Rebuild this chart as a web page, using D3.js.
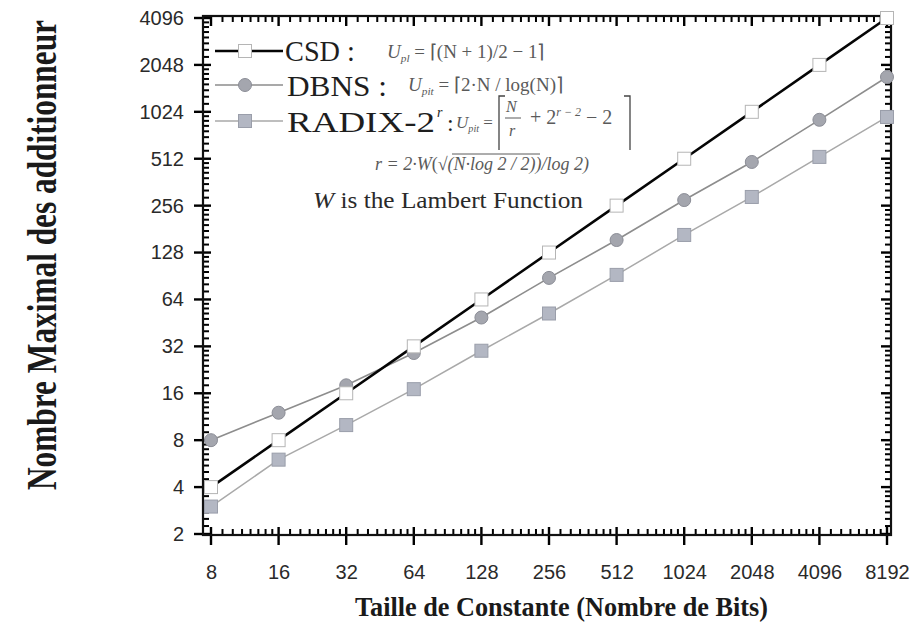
<!DOCTYPE html>
<html>
<head>
<meta charset="utf-8">
<script src="https://cdn.jsdelivr.net/npm/d3@7"></script>
<style>
  body { margin: 0; background: #fff; }
  svg { display: block; }
  .axis text { font-family: "Liberation Sans", Arial, sans-serif; font-size: 20px; fill: #2a2a2a; }
  .axis path.domain { display: none; }
</style>
</head>
<body>
<svg id="chart" width="912" height="636"></svg>
<script>
// bit sizes of the constant (x) and tick values
const bits = [8, 16, 32, 64, 128, 256, 512, 1024, 2048, 4096, 8192];
const yTickValues = [2, 4, 8, 16, 32, 64, 128, 256, 512, 1024, 2048, 4096];

// maximal number of adders
const csd = [4, 8, 16, 32, 64, 128, 256, 512, 1024, 2048, 4096];
const dbns = [8, 12, 18, 29, 49, 88, 154, 278, 488, 910, 1713];
const radix = [3, 6, 10, 17, 30, 52, 92, 166, 291, 526, 949];

const svg = d3.select("#chart");
const frameL = 203, frameR = 891, frameT = 16, frameB = 535;

const x = d3.scaleLog().base(2).domain([8, 8192]).range([211, 887]);
const y = d3.scaleLog().base(2).domain([2, 4096]).range([534, 18]);

// minor ticks : linear subdivisions of each octave
function minorTicks(lo, hi, parts) {
  const out = [];
  for (let p = lo; p < hi; p *= 2) {
    for (let i = 1; i < parts; i++) out.push(p * (1 + i / parts));
  }
  return out;
}
const xMinor = minorTicks(8, 8192, 8);
const yMinor = minorTicks(2, 4096, 8);

// tick labels through d3 axes
svg.append("g").attr("class", "axis")
  .attr("transform", `translate(0,${frameB})`)
  .call(d3.axisBottom(x).tickValues(bits).tickSize(10).tickPadding(20).tickFormat(d3.format("d")))
  .call((g) => g.selectAll(".tick line").remove());
svg.append("g").attr("class", "axis")
  .attr("transform", `translate(${frameL},0)`)
  .call(d3.axisLeft(y).tickValues(yTickValues).tickSize(9).tickPadding(10).tickFormat(d3.format("d")))
  .call((g) => g.selectAll(".tick line").remove());

// tick marks as filled rects
const tickG = svg.append("g").attr("fill", "#000");
function xTickMarks(vals, y0, y1, w) {
  tickG.append("g").selectAll("rect").data(vals).join("rect")
    .attr("x", (d) => x(d) - w / 2).attr("width", w)
    .attr("y", Math.min(y0, y1)).attr("height", Math.abs(y1 - y0));
}
function yTickMarks(vals, x0, x1, w) {
  tickG.append("g").selectAll("rect").data(vals).join("rect")
    .attr("y", (d) => y(d) - w / 2).attr("height", w)
    .attr("x", Math.min(x0, x1)).attr("width", Math.abs(x1 - x0));
}
// bottom: majors cross the axis, minors inward
xTickMarks(bits, frameB - 8, frameB + 10, 2.4);
xTickMarks(xMinor, frameB - 6, frameB, 2);
// top: inward
xTickMarks(bits, frameT, frameT + 10, 2.4);
xTickMarks(xMinor, frameT, frameT + 6, 2);
// left: majors cross, minors inward
yTickMarks(yTickValues, frameL - 9, frameL + 8, 2.4);
yTickMarks(yMinor, frameL, frameL + 6, 2);
// right: inward
yTickMarks(yTickValues, frameR - 10, frameR, 2.4);
yTickMarks(yMinor, frameR - 6, frameR, 2);

// frame
svg.append("rect")
  .attr("x", frameL).attr("y", frameT)
  .attr("width", frameR - frameL).attr("height", frameB - frameT)
  .attr("fill", "none").attr("stroke", "#111").attr("stroke-width", 2.2);

// series
const series = [
  { name: "CSD", values: csd, line: "#050505", width: 2.6, shape: "square", fill: "#ffffff", stroke: "#b5b5b5" },
  { name: "DBNS", values: dbns, line: "#8d8d8d", width: 1.6, shape: "circle", fill: "#a4a6ae", stroke: "#8b8d96" },
  { name: "RADIX", values: radix, line: "#a9a9a9", width: 1.5, shape: "square", fill: "#b3b7c3", stroke: "#9a9eaa" }
];

const line = d3.line().x((d) => x(d[0])).y((d) => y(d[1]));

function drawMarker(g, s, cx, cy) {
  if (s.shape === "circle") {
    g.append("circle").attr("cx", cx).attr("cy", cy).attr("r", 6.5)
      .attr("fill", s.fill).attr("stroke", s.stroke).attr("stroke-width", 1);
  } else {
    g.append("rect").attr("x", cx - 6.5).attr("y", cy - 6.5).attr("width", 13).attr("height", 13)
      .attr("fill", s.fill).attr("stroke", s.stroke).attr("stroke-width", 1);
  }
}

const plot = svg.append("g");
series.slice().reverse().forEach((s) => {
  const pts = bits.map((b, i) => [b, s.values[i]]);
  plot.append("path").attr("d", line(pts))
    .attr("fill", "none").attr("stroke", s.line).attr("stroke-width", s.width);
  const mg = plot.append("g");
  pts.forEach((p) => drawMarker(mg, s, x(p[0]), y(p[1])));
});

// legend
const legendRows = [
  { s: series[0], y: 51 },
  { s: series[1], y: 85 },
  { s: series[2], y: 121 }
];
const lg = svg.append("g");
legendRows.forEach((r) => {
  lg.append("line").attr("x1", 215).attr("x2", 283).attr("y1", r.y).attr("y2", r.y)
    .attr("stroke", r.s.line).attr("stroke-width", r.s.width);
  drawMarker(lg, r.s, 245, r.y);
});

const serif = "'Liberation Serif', 'Times New Roman', serif";
function label(txt, xx, yy, size, len) {
  const t = lg.append("text").attr("x", xx).attr("y", yy)
    .attr("font-family", serif).attr("font-size", size).attr("fill", "#1e1e1e").text(txt);
  if (len) t.attr("textLength", len).attr("lengthAdjust", "spacingAndGlyphs");
  return t;
}
label("CSD :", 285, 61, 29, 70);
label("DBNS :", 287, 96, 29, 100);
label("RADIX-2", 287, 132, 29, 148);
lg.append("text").attr("x", 437).attr("y", 117).attr("font-family", serif)
  .attr("font-size", 14).attr("font-style", "italic").attr("fill", "#1e1e1e").text("r");
label(":", 447, 131, 24);

// formulas (faded small italic)
const fcol = "#5a5a5a";
function formula(parts, xx, yy, size) {
  const t = lg.append("text").attr("x", xx).attr("y", yy)
    .attr("font-family", serif).attr("font-size", size).attr("fill", fcol);
  parts.forEach((p) => {
    const ts = t.append("tspan").text(p.t);
    if (p.i) ts.attr("font-style", "italic");
    if (p.sub) ts.attr("font-size", size * 0.6).attr("dy", 4);
    if (p.up) ts.attr("dy", -4);
    if (p.sup) ts.attr("font-size", size * 0.6).attr("dy", -8);
    if (p.down) ts.attr("dy", 8);
  });
  return t;
}
formula([{ t: "U", i: 1 }, { t: "pl", i: 1, sub: 1 }, { t: " = ⌈(N + 1)/2 − 1⌉", up: 1 }], 387, 58, 19);
formula([{ t: "U", i: 1 }, { t: "pit", i: 1, sub: 1 }, { t: " = ⌈2·N / log(N)⌉", up: 1 }], 408, 91, 19);
formula([{ t: "U", i: 1 }, { t: "pit", i: 1, sub: 1 }, { t: " =", up: 1 }], 456, 128, 17);

// tall ceiling bracket for the radix formula
const bk = lg.append("g").attr("stroke", "#444").attr("stroke-width", 1.3).attr("fill", "none");
bk.append("path").attr("d", "M505,96 H499 V150");
bk.append("path").attr("d", "M624,96 H630 V150");
lg.append("text").attr("x", 506).attr("y", 112).attr("font-family", serif).attr("font-size", 16)
  .attr("font-style", "italic").attr("fill", fcol).text("N");
lg.append("line").attr("x1", 505).attr("x2", 521).attr("y1", 118).attr("y2", 118)
  .attr("stroke", fcol).attr("stroke-width", 1);
lg.append("text").attr("x", 509).attr("y", 136).attr("font-family", serif).attr("font-size", 16)
  .attr("font-style", "italic").attr("fill", fcol).text("r");
formula([{ t: "+ 2" }, { t: "r − 2", i: 1, sup: 1 }, { t: " − 2", down: 1 }], 530, 124, 20);

// r formula with square root
formula([{ t: "r = 2·W", i: 1 }, { t: "(" }, { t: "√" }, { t: "(N·log 2 / 2)", i: 1 }, { t: ")/log 2)", i: 1 }], 375, 170, 18);
lg.append("line").attr("x1", 452).attr("x2", 540).attr("y1", 154).attr("y2", 154)
  .attr("stroke", fcol).attr("stroke-width", 1);

const wl = lg.append("text").attr("x", 313).attr("y", 208).attr("font-family", serif)
  .attr("font-size", 23).attr("fill", "#2a2a2a").attr("textLength", 270).attr("lengthAdjust", "spacingAndGlyphs");
wl.append("tspan").attr("font-style", "italic").text("W");
wl.append("tspan").text(" is the Lambert Function");

// axis titles
svg.append("text")
  .attr("x", 355).attr("y", 616)
  .attr("font-family", serif).attr("font-weight", "bold").attr("font-size", 28)
  .attr("fill", "#1a1a1a").attr("textLength", 413).attr("lengthAdjust", "spacingAndGlyphs")
  .text("Taille de Constante (Nombre de  Bits)");

svg.append("text")
  .attr("transform", "translate(56,490) rotate(-90)")
  .attr("font-family", serif).attr("font-weight", "bold").attr("font-size", 42)
  .attr("fill", "#1a1a1a").attr("textLength", 470).attr("lengthAdjust", "spacingAndGlyphs")
  .text("Nombre Maximal des additionneur");
</script>
</body>
</html>
